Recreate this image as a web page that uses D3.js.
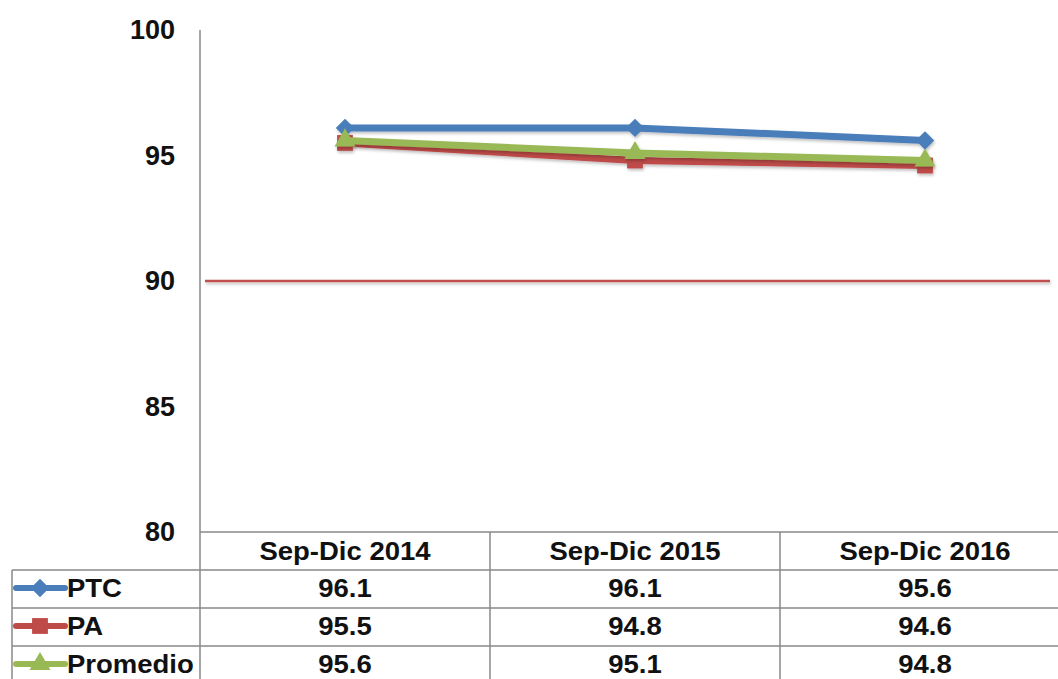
<!DOCTYPE html>
<html>
<head>
<meta charset="utf-8">
<style>
  body { margin: 0; background: #fff; }
  svg { display: block; font-family: "Liberation Sans", Arial, sans-serif; font-weight: bold; }
</style>
</head>
<body>
<div id="chart"></div>
<script src="https://d3js.org/d3.v7.min.js"></script>
<script>
// data
var categories = ["Sep-Dic 2014", "Sep-Dic 2015", "Sep-Dic 2016"];
var seriesNames = ["PTC", "PA", "Promedio"];
var ptcValues = [96.1, 96.1, 95.6];
var paValues = [95.5, 94.8, 94.6];
var promedioValues = [95.6, 95.1, 94.8];
var yTicks = [80, 85, 90, 95, 100];
var targetValue = 90;

var width = 1058, height = 679;

var series = [
  { name: seriesNames[0], values: ptcValues, color: "#4a7ebb", shape: "diamond" },
  { name: seriesNames[1], values: paValues, color: "#be4b48", shape: "square" },
  { name: seriesNames[2], values: promedioValues, color: "#98b954", shape: "triangle" }
];

var svg = d3.select("#chart").append("svg")
    .attr("width", width)
    .attr("height", height);

// soft shadow like the excel line effect
var defs = svg.append("defs");
var f = defs.append("filter").attr("id", "shadow")
    .attr("filterUnits", "userSpaceOnUse")
    .attr("x", 0).attr("y", 0).attr("width", width).attr("height", height);
f.append("feDropShadow")
    .attr("dx", 1).attr("dy", 2).attr("stdDeviation", 1.5)
    .attr("flood-color", "#000").attr("flood-opacity", 0.25);

var x = d3.scaleBand()
    .domain(categories)
    .range([200, 1070])
    .padding(0);

var y = d3.scaleLinear()
    .domain([80, 100])
    .range([532, 30]);

function cx(c) { return x(c) + x.bandwidth() / 2; }

// y axis
var yAxis = svg.append("g")
    .attr("transform", "translate(200,0)")
    .call(d3.axisLeft(y).tickValues(yTicks).tickSize(0).tickPadding(25));
yAxis.select(".domain").remove();
yAxis.selectAll("text")
    .style("font-size", "27px")
    .style("font-weight", "bold")
    .style("font-family", "'Liberation Sans', Arial, sans-serif")
    .attr("fill", "#111");

svg.append("line")
    .attr("x1", 200).attr("x2", 200)
    .attr("y1", y(100)).attr("y2", height)
    .attr("stroke", "#888").attr("stroke-width", 1.5);

// target line at 90
svg.append("line")
    .attr("x1", 205).attr("x2", 1050)
    .attr("y1", y(targetValue)).attr("y2", y(targetValue))
    .attr("stroke", "#c0504d").attr("stroke-width", 2.5)
    .attr("filter", "url(#shadow)");

// series lines and markers
var line = d3.line()
    .x(function(d, i) { return cx(categories[i]); })
    .y(function(d) { return y(d); });

function markerPath(shape) {
  if (shape === "diamond") return d3.symbol().type(d3.symbolSquare).size(170)();
  if (shape === "square") return d3.symbol().type(d3.symbolSquare).size(250)();
  return d3.symbol().type(d3.symbolTriangle).size(190)();
}

series.forEach(function(s) {
  var g = svg.append("g").attr("filter", "url(#shadow)");
  g.append("path")
      .datum(s.values)
      .attr("d", line)
      .attr("fill", "none")
      .attr("stroke", s.color)
      .attr("stroke-width", 7)
      .attr("stroke-linejoin", "round");
  g.selectAll("path.m")
      .data(s.values)
      .enter().append("path")
      .attr("class", "m")
      .attr("d", markerPath(s.shape))
      .attr("fill", s.color)
      .attr("transform", function(d, i) {
        var t = "translate(" + cx(categories[i]) + "," + y(d) + ")";
        return s.shape === "diamond" ? t + " rotate(45)" : t;
      });
});

// data table
var rowTop = 532, rowH = 38;
var gridColor = "#888";
var table = svg.append("g");

// horizontal lines
table.append("line")
    .attr("x1", 200).attr("x2", width)
    .attr("y1", rowTop).attr("y2", rowTop)
    .attr("stroke", gridColor).attr("stroke-width", 1.5);
for (var r = 1; r <= series.length; r++) {
  table.append("line")
      .attr("x1", 12).attr("x2", width)
      .attr("y1", rowTop + r * rowH).attr("y2", rowTop + r * rowH)
      .attr("stroke", gridColor).attr("stroke-width", 1.5);
}
// vertical lines
table.append("line")
    .attr("x1", 12).attr("x2", 12)
    .attr("y1", rowTop + rowH).attr("y2", height)
    .attr("stroke", gridColor).attr("stroke-width", 1.5);
categories.slice(1).forEach(function(c) {
  table.append("line")
      .attr("x1", x(c)).attr("x2", x(c))
      .attr("y1", rowTop).attr("y2", height)
      .attr("stroke", gridColor).attr("stroke-width", 1.5);
});

// text is a bit wide in the reference, stretch it horizontally
function wideText(sel, px, py, anchor) {
  return sel.append("text")
      .attr("transform", "translate(" + px + "," + py + ") scale(1.1,1)")
      .attr("dy", "0.36em")
      .attr("text-anchor", anchor)
      .style("font-size", "25px")
      .attr("fill", "#111");
}

// header
categories.forEach(function(c) {
  wideText(table, cx(c), rowTop + rowH / 2, "middle").text(c);
});

// rows
series.forEach(function(s, r) {
  var yy = rowTop + (r + 1) * rowH + rowH / 2 - 1;
  var lg = table.append("g");
  lg.append("line")
      .attr("x1", 16).attr("x2", 65)
      .attr("y1", yy).attr("y2", yy)
      .attr("stroke", s.color).attr("stroke-width", 6)
      .attr("stroke-linecap", "round");
  lg.append("path")
      .attr("d", markerPath(s.shape))
      .attr("fill", s.color)
      .attr("transform", "translate(40," + yy + ")" + (s.shape === "diamond" ? " rotate(45)" : ""));
  wideText(lg, 67, yy, "start").text(s.name);

  s.values.forEach(function(v, i) {
    wideText(table, cx(categories[i]), yy, "middle").text(v.toFixed(1));
  });
});
</script>
</body>
</html>
